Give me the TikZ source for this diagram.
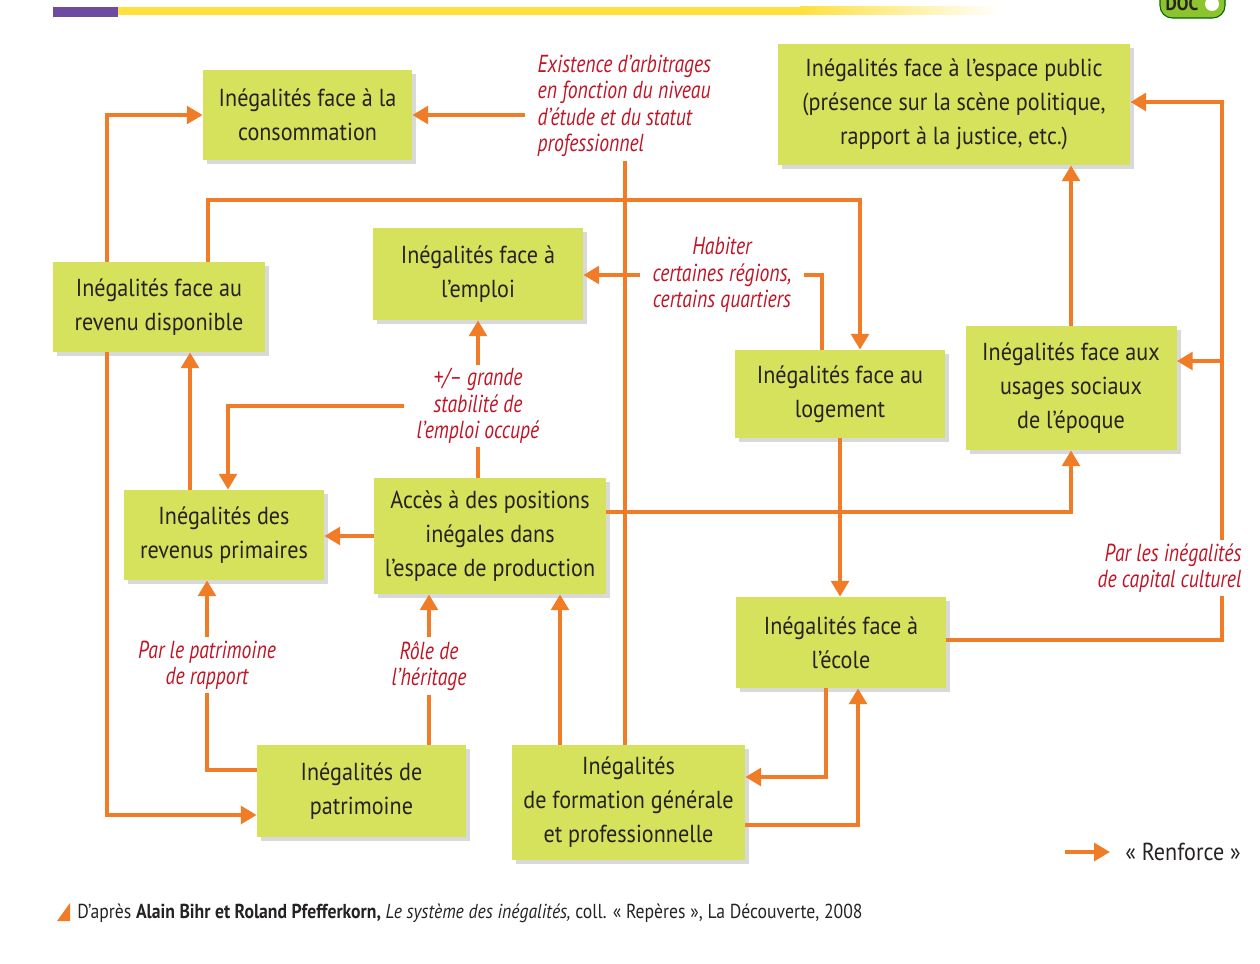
\documentclass[tikz,border=0pt]{standalone}
\usepackage{fontspec}
\setmainfont{PT Sans}[FakeStretch=0.9]
\newfontfamily\labfont{PT Sans}[FakeStretch=0.8]
\newfontfamily\srcfont{PT Sans}[FakeStretch=0.875]
\usepackage{tikz}
\usetikzlibrary{positioning,shapes,shadows,arrows.meta}

\definecolor{boxgreen}{RGB}{214,225,92}
\definecolor{arrorange}{RGB}{240,124,40}
\definecolor{labred}{RGB}{190,22,38}
\definecolor{boxtext}{RGB}{38,34,34}
\definecolor{barpurple}{RGB}{110,75,160}
\definecolor{baryellow}{RGB}{255,224,60}
\definecolor{badgegreen}{RGB}{140,196,45}

\begin{document}
\begin{tikzpicture}[x=0.02cm,y=-0.02cm,
  ineg/.style={fill=boxgreen, text=boxtext, align=center, inner sep=0pt,
    font=\fontsize{14}{19.4}\selectfont,
    drop shadow={shadow xshift=2.5pt,shadow yshift=-2.5pt,opacity=0.3}},
  lab/.style={text=labred, font=\labfont\itshape\fontsize{14}{15}\selectfont,
    inner xsep=7pt, inner ysep=2pt},
  link/.style={draw=arrorange, line width=2.3pt},
  arr/.style={link, -{Triangle[length=9pt,width=10pt]}}]

\useasboundingbox (0,0) rectangle (1260,963);

\fill[barpurple] (53,7) rectangle (118,17);
\fill[baryellow] (118,7) rectangle (800,15);
\shade[left color=baryellow, right color=white] (800,7) rectangle (1000,15);
\fill[badgegreen, draw=green!40!black, line width=0.6pt, rounded corners=7pt] (1160,-20) rectangle (1225,18);
\node[font=\bfseries\fontsize{11}{12}\selectfont, text=boxtext] (doc) at (1182,4) {DOC};
\fill[white] (1212,4) circle (7);

\foreach \name/\x/\y/\w/\h/\txt in {
  conso/307.5/115/209/90/{Inégalités face à la\\consommation},
  espace/954/104.5/352/121/{Inégalités face à l’espace public\\(présence sur la scène politique,\\rapport à la justice, etc.)},
  revdispo/159/307/212/90/{Inégalités face au\\revenu disponible},
  emploi/478/274/210/92/{Inégalités face à\\l’emploi},
  logement/840/394/210/88/{Inégalités face au\\logement},
  usages/1071/388/211/124/{Inégalités face aux\\usages sociaux\\de l’époque},
  revprim/224/535/200/90/{Inégalités des\\revenus primaires},
  acces/490/536/232/116/{Accès à des positions\\inégales dans\\l’espace de production},
  ecole/841/642.5/210/91/{Inégalités face à\\l’école},
  patrimoine/361.5/791/209/92/{Inégalités de\\patrimoine},
  formation/628.5/802.5/233/115/{Inégalités\\de formation générale\\et professionnelle}} {
    \node[ineg, minimum width=\w*0.02cm, minimum height=\h*0.02cm] (\name) at (\x,\y) {\txt};
}

\node[lab, align=left, anchor=west] (exist) at (525,106) {Existence d’arbitrages\\en fonction du niveau\\d’étude et du statut\\professionnel};
\node[lab, align=center] (habiter) at (722,275) {Habiter\\certaines régions,\\certains quartiers};
\node[lab, align=center] (stab) at (478,406) {+/– grande\\stabilité de\\l’emploi occupé};
\node[lab, align=center] (patlab) at (207,665) {Par le patrimoine\\de rapport};
\node[lab, align=center] (heritage) at (429,666) {Rôle de\\l’héritage};
\node[lab, align=right, anchor=east] (capital) at (1254,568) {Par les inégalités\\de capital culturel};

\draw[arr] (revdispo.north -| 107,0) |- (conso.west);
\draw[arr] (exist.west |- conso.east) -- (conso.east);
\draw[link] (formation.north -| 625,0) -- (exist.south -| 625,0);
\draw[arr] (revdispo.north -| 208,0) -- (208,200) -- (860,200) -- (logement.north -| 860,0);

\draw[link] (logement.north -| 822,0) |- (habiter.east);
\draw[arr] (habiter.west) -- (habiter.west -| emploi.east);

\draw[link] (acces.north -| stab.south) -- (stab.south);
\draw[arr] (stab.north) -- (emploi.south -| stab.north);
\draw[arr] (stab.west) -| (revprim.north -| 228,0);

\foreach \from/\to/\x in {revprim/revdispo/190, formation/acces/560} {
    \draw[arr] (\from.north -| \x,0) -- (\to.south -| \x,0);
}

\draw[arr] (revdispo.south -| 107,0) |- (patrimoine.west |- 0,815);
\draw[arr] (acces.west) -- (acces.west -| revprim.east);
\draw[arr] (acces.east |- 0,512) -| (usages.south);
\draw[arr] (usages.north) -- (espace.south -| usages.north);

\coordinate (cjoin) at (1222,361);
\draw[link] (ecole.east |- 0,640) -| (capital.south -| 1222,0);
\draw[arr] (capital.north -| 1222,0) |- (espace.east |- 0,102);
\draw[arr] (cjoin) -- (usages.east |- cjoin);

\draw[arr] (logement.south) -- (ecole.north -| logement.south);
\draw[arr] (ecole.south -| 826,0) |- (formation.east |- 0,777);
\draw[arr] (formation.east |- 0,825) -| (ecole.south -| 858,0);

\draw[link] (patrimoine.north -| heritage.south) -- (heritage.south);
\draw[arr] (heritage.north) -- (acces.south -| heritage.north);
\draw[link] (patrimoine.west |- 0,770) -| (patlab.south);
\draw[arr] (patlab.north) -- (revprim.south -| patlab.north);

\coordinate (legstart) at (1065,852);
\node[anchor=west, inner xsep=0.3cm, inner ysep=0pt, text=boxtext, font=\fontsize{14}{16}\selectfont] (renforce) at (1110,852) {« Renforce »};
\draw[arr] (legstart) -- (renforce.west);

\fill[arrorange] (57,921) -- (70,921) -- (70,903) -- cycle;
\node[anchor=west, inner sep=0pt, text=boxtext, font=\srcfont\fontsize{11.5}{13}\selectfont] (source) at (77,913) {D’après \textbf{Alain Bihr et Roland Pfefferkorn,} \textit{Le système des inégalités,} coll. « Repères », La Découverte, 2008};

\end{tikzpicture}
\end{document}
